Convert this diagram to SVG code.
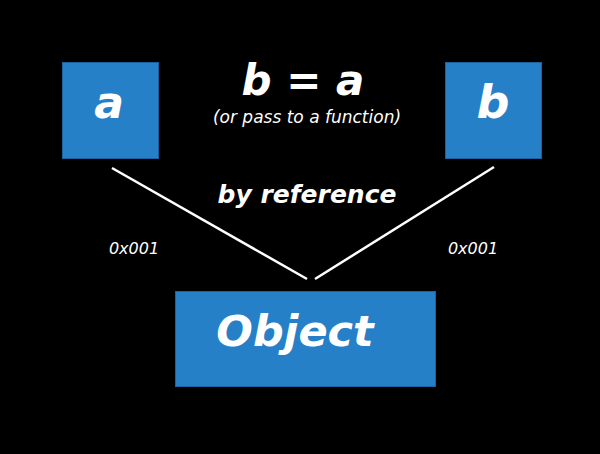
<svg xmlns="http://www.w3.org/2000/svg" width="600" height="454" viewBox="0 0 600 454">
<style>
.box{fill:#2680c7;stroke:#1c62a0;stroke-width:1}
.t{fill:#ffffff;font-family:"DejaVu Sans","Open Sans",sans-serif;font-style:italic;font-weight:bold}
.n{fill:#ffffff;font-family:"DejaVu Sans","Open Sans",sans-serif;font-style:italic}
.ln{stroke:#ffffff;stroke-width:2.5;stroke-linecap:butt}
</style>
<rect width="600" height="454" fill="#000000"/>
<g id="connectors">
<line class="ln" x1="112" y1="168" x2="307" y2="279"/>
<line class="ln" x1="494" y1="167" x2="315" y2="279"/>
</g>
<g id="node-a">
<rect class="box" x="62.5" y="62.5" width="96" height="96"/>
<text class="t" x="109" y="118" font-size="44" text-anchor="middle">a</text>
</g>
<g id="node-b">
<rect class="box" x="445.5" y="62.5" width="96" height="96"/>
<text class="t" x="493" y="118" font-size="46" text-anchor="middle">b</text>
</g>
<g id="node-object">
<rect class="box" x="175.5" y="291.5" width="260" height="95"/>
<text class="t" x="295" y="346" font-size="43" text-anchor="middle">Object</text>
</g>
<g id="labels">
<text class="t" x="303" y="95" font-size="42" text-anchor="middle">b = a</text>
<text class="n" x="307" y="123" font-size="17" text-anchor="middle">(or pass to a function)</text>
<text class="t" x="307" y="203" font-size="25" text-anchor="middle">by reference</text>
<text class="n" x="134" y="254" font-size="16" text-anchor="middle">0x001</text>
<text class="n" x="473" y="254" font-size="16" text-anchor="middle">0x001</text>
</g>
</svg>
